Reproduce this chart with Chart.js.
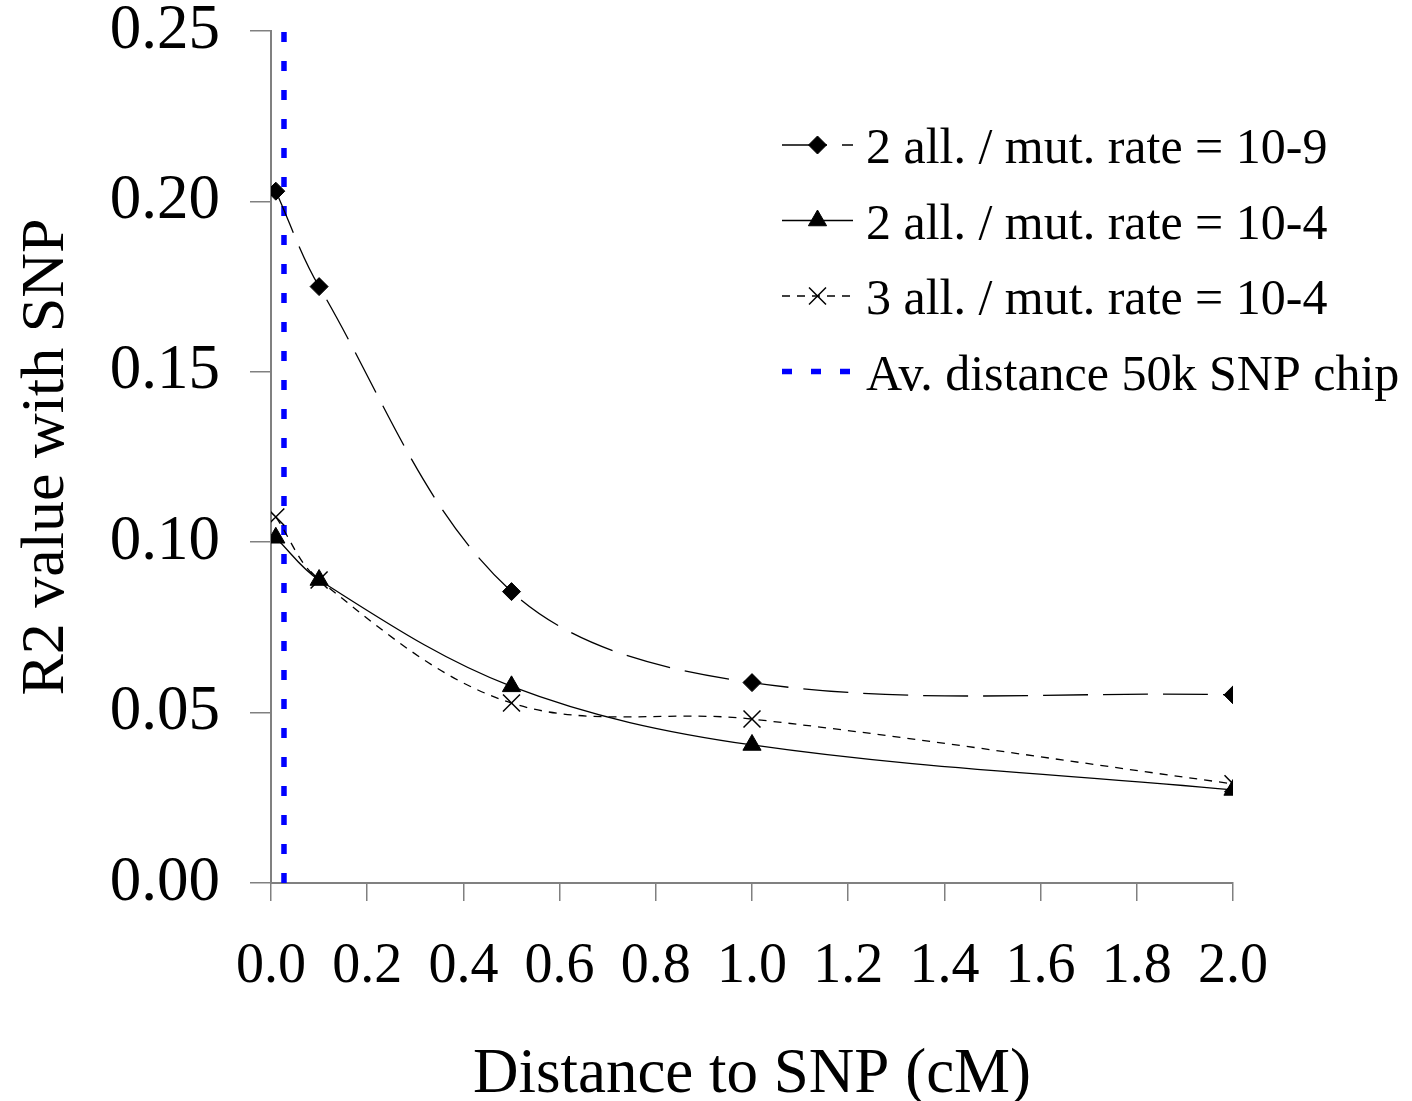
<!DOCTYPE html>
<html>
<head>
<meta charset="utf-8">
<script src="https://cdn.jsdelivr.net/npm/chart.js@4.4.0/dist/chart.umd.min.js"></script>
<style>
  html, body { margin: 0; padding: 0; background: #fff; }
  canvas { display: block; }
</style>
</head>
<body>
<canvas id="chart" width="1412" height="1101"></canvas>
<script>
// distances (cM) at which R2 was measured
const distances = [0.01, 0.1, 0.5, 1.0, 2.0];
const r2TwoAllMut9 = [0.203, 0.175, 0.0855, 0.0588, 0.0552];
const r2TwoAllMut4 = [0.1013, 0.0889, 0.0577, 0.0405, 0.0273];
const r2ThreeAllMut4 = [0.1074, 0.0889, 0.0528, 0.0481, 0.0291];
// average marker spacing on the 50k chip
const chipDistance = 0.027;
const chipRange = [0, 0.25];

const seriesNames = [
  "2 all. / mut. rate = 10-9",
  "2 all. / mut. rate = 10-4",
  "3 all. / mut. rate = 10-4",
  "Av. distance 50k SNP chip"
];
const xTitle = "Distance to SNP (cM)";
const yTitle = "R2 value with SNP";

const toPoints = (xs, ys) => xs.map((x, i) => ({ x: x, y: ys[i] }));

Chart.defaults.font.family = "'Liberation Serif', 'Times New Roman', serif";
Chart.defaults.color = "#000";

// legend with line sample + marker, drawn on the right side
const sideLegend = {
  id: "sideLegend",
  afterDraw(chart, args, opts) {
    const ctx = chart.ctx;
    chart.data.datasets.forEach((ds, i) => {
      const y = opts.top + i * opts.rowGap;
      ctx.save();
      ctx.strokeStyle = ds.borderColor;
      ctx.lineWidth = ds.borderWidth;
      ctx.setLineDash(ds.borderDash || []);
      ctx.beginPath();
      ctx.moveTo(opts.x0, y);
      ctx.lineTo(opts.x1, y);
      ctx.stroke();
      ctx.setLineDash([]);
      if (ds.pointRadius > 0) {
        ctx.fillStyle = ds.pointBackgroundColor;
        ctx.strokeStyle = ds.pointBorderColor;
        ctx.lineWidth = ds.pointBorderWidth;
        Chart.helpers.drawPoint(ctx, {
          pointStyle: ds.pointStyle,
          radius: ds.pointRadius,
          borderWidth: ds.pointBorderWidth,
          rotation: 0
        }, (opts.x0 + opts.x1) / 2, y);
      }
      ctx.fillStyle = "#000";
      ctx.font = opts.font;
      ctx.textBaseline = "middle";
      ctx.textAlign = "left";
      ctx.fillText(ds.label, opts.textX, y + opts.textDy);
      ctx.restore();
    });
  }
};

new Chart(document.getElementById("chart"), {
  type: "line",
  data: {
    datasets: [
      {
        label: seriesNames[0],
        data: toPoints(distances, r2TwoAllMut9),
        borderColor: "#000",
        borderWidth: 1.3,
        borderDash: [45, 15],
        tension: 0.35,
        pointStyle: "rectRot",
        pointRadius: 9,
        pointBackgroundColor: "#000",
        pointBorderColor: "#000",
        pointBorderWidth: 1,
        order: 1
      },
      {
        label: seriesNames[1],
        data: toPoints(distances, r2TwoAllMut4),
        borderColor: "#000",
        borderWidth: 1.3,
        borderDash: [],
        tension: 0.35,
        pointStyle: "triangle",
        pointRadius: 10.5,
        pointBackgroundColor: "#000",
        pointBorderColor: "#000",
        pointBorderWidth: 1,
        order: 2
      },
      {
        label: seriesNames[2],
        data: toPoints(distances, r2ThreeAllMut4),
        borderColor: "#000",
        borderWidth: 1.3,
        borderDash: [8, 7],
        tension: 0.35,
        pointStyle: "crossRot",
        pointRadius: 12,
        pointBackgroundColor: "#000",
        pointBorderColor: "#000",
        pointBorderWidth: 1.5,
        order: 3
      },
      {
        label: seriesNames[3],
        data: toPoints([chipDistance, chipDistance], chipRange),
        borderColor: "#0000ff",
        borderWidth: 5.5,
        borderDash: [10, 19],
        pointRadius: 0,
        tension: 0,
        order: 10
      }
    ]
  },
  options: {
    responsive: false,
    devicePixelRatio: 1,
    animation: false,
    layout: { padding: { top: 31, right: 179, bottom: 0, left: 0 } },
    plugins: {
      legend: { display: false },
      tooltip: { enabled: false },
      sideLegend: {
        x0: 782, x1: 853, textX: 866, top: 145, rowGap: 75.5, textDy: 5,
        font: "50px 'Liberation Serif', 'Times New Roman', serif"
      }
    },
    scales: {
      x: {
        type: "linear",
        min: 0,
        max: 2,
        afterFit: s => { s.height = 218; },
        border: { display: true, color: "#808080", width: 2 },
        grid: { drawOnChartArea: false, drawTicks: true, tickLength: 18, color: "#808080", lineWidth: 1.5 },
        ticks: {
          stepSize: 0.2,
          autoSkip: false,
          maxRotation: 0,
          padding: 33,
          font: { size: 56 },
          callback: v => v.toFixed(1)
        },
        title: {
          display: true,
          text: xTitle,
          font: { size: 63 },
          padding: { top: 0, bottom: -12 }
        }
      },
      y: {
        type: "linear",
        min: 0,
        max: 0.25,
        afterFit: s => { s.width = 271; s.paddingTop = 0; s.paddingBottom = 0; },
        border: { display: true, color: "#808080", width: 2 },
        grid: { drawOnChartArea: false, drawTicks: true, tickLength: 21, color: "#808080", lineWidth: 1.5 },
        ticks: {
          stepSize: 0.05,
          padding: 30,
          font: { size: 63 },
          callback: v => v.toFixed(2)
        },
        title: {
          display: true,
          text: yTitle,
          font: { size: 62 },
          padding: { top: 10, bottom: 0 }
        }
      }
    }
  },
  plugins: [sideLegend]
});
</script>
</body>
</html>
